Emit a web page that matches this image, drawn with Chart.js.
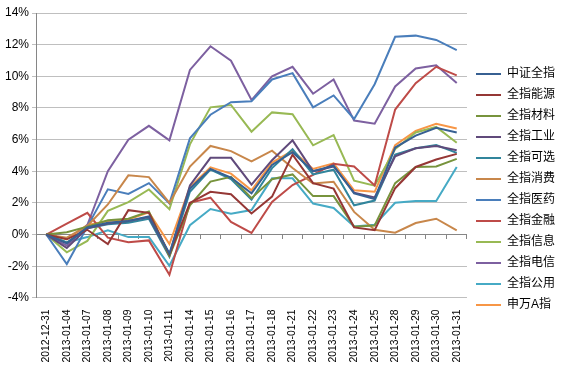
<!DOCTYPE html>
<html>
<head>
<meta charset="utf-8">
<script src="https://cdn.jsdelivr.net/npm/chart.js@4/dist/chart.umd.min.js"></script>
<style>
html, body { margin: 0; padding: 0; background: #fff; }
</style>
</head>
<body>
<canvas id="chart" width="565" height="365"></canvas>
<script>
// 日期
const dates = ['2012-12-31','2013-01-04','2013-01-07','2013-01-08','2013-01-09','2013-01-10','2013-01-11',
  '2013-01-14','2013-01-15','2013-01-16','2013-01-17','2013-01-18','2013-01-21','2013-01-22','2013-01-23',
  '2013-01-24','2013-01-25','2013-01-28','2013-01-29','2013-01-30','2013-01-31'];

const seriesNames = ['中证全指','全指能源','全指材料','全指工业','全指可选','全指消费',
  '全指医药','全指金融','全指信息','全指电信','全指公用','申万A指'];

// 累计涨幅 (%)
const zzqz    = [0,-0.55,0.45,0.75,0.85,1.15,-1.2,2.9,4.15,3.6,2.6,4.4,5.2,4.0,4.35,2.6,2.25,5.5,6.25,6.75,6.45];
const nengyuan= [0,-0.3,0.3,-0.6,1.54,1.37,-1.25,2.0,2.7,2.55,1.33,2.4,5.05,3.25,2.9,0.45,0.27,2.93,4.27,4.74,5.1];
const cailiao = [0,0.15,0.5,0.9,1.0,1.45,-1.35,1.85,3.35,3.65,2.3,3.5,3.8,2.43,2.43,0.5,0.57,3.25,4.27,4.3,4.78];
const gongye  = [0,-0.85,0.4,0.7,0.85,1.1,-1.3,3.1,4.85,4.85,3.15,4.7,5.95,4.0,4.3,2.65,2.35,4.95,5.45,5.6,5.33];
const kexuan  = [0,-0.5,0.4,0.65,0.75,1.0,-1.4,2.7,4.1,3.5,2.2,4.2,5.4,3.8,4.1,1.85,2.15,5.06,5.45,5.65,5.16];
const xiaofei = [0,-0.2,0.55,1.9,3.74,3.63,2.0,4.3,5.6,5.27,4.63,5.3,4.2,3.23,3.34,1.43,0.3,0.12,0.73,1.0,0.27];
const yiyao   = [0,-1.86,0.5,2.86,2.57,3.25,1.97,6.08,7.57,8.36,8.42,9.8,10.2,8.04,8.79,7.3,9.5,12.5,12.57,12.3,11.66];
const jinrong = [0,0.69,1.37,-0.2,-0.48,-0.37,-2.54,2.0,2.33,0.8,0.1,2.06,3.13,3.77,4.47,4.3,3.1,7.9,9.57,10.6,10.06];
const xinxi   = [0,-1.12,-0.4,1.5,2.05,2.85,1.6,5.7,8.04,8.19,6.5,7.72,7.6,5.64,6.28,3.4,3.09,5.4,6.45,6.8,5.8];
const dianxin = [0,-0.7,0.6,4.0,6.0,6.87,5.95,10.4,11.9,10.98,8.5,10.0,10.6,8.9,9.8,7.2,7.0,9.36,10.5,10.7,9.57];
const gongyong= [0,-0.5,-0.16,0.27,-0.16,-0.16,-1.97,0.59,1.61,1.31,1.55,3.55,3.55,1.96,1.68,0.51,0.62,2.01,2.12,2.12,4.27];
const swA     = [0,-0.3,0.6,0.85,0.95,1.4,-0.6,3.0,4.25,3.85,2.8,4.55,5.3,4.15,4.5,2.8,2.7,5.65,6.55,7.0,6.7];

const yTicks = [-4,-2,0,2,4,6,8,10,12,14];

const allSeries = [zzqz, nengyuan, cailiao, gongye, kexuan, xiaofei, yiyao, jinrong, xinxi, dianxin, gongyong, swA];
const colors = ['#376092','#953735','#77933C','#604A7B','#31859C','#C8874B',
  '#4A7EBB','#BE4B48','#98B954','#7D60A0','#46AAC5','#F79646'];

const fontFam = '"Liberation Sans", Arial, "Noto Sans CJK SC", sans-serif';

const datasets = allSeries.map((d, i) => ({
    label: seriesNames[i],
    data: d,
    borderColor: colors[i],
    backgroundColor: colors[i],
    borderWidth: 2,
    pointRadius: 0,
    tension: 0,
    fill: false
}));

new Chart(document.getElementById('chart'), {
    type: 'line',
    data: { labels: dates, datasets: datasets },
    options: {
        responsive: false,
        animation: false,
        devicePixelRatio: 1,
        layout: { padding: { top: 13, left: 2, right: 0, bottom: -1 } },
        plugins: {
            tooltip: { enabled: false },
            legend: {
                position: 'right',
                labels: {
                    usePointStyle: true,
                    pointStyle: 'line',
                    pointStyleWidth: 25,
                    padding: 9,
                    color: '#000',
                    font: { family: fontFam, size: 12 }
                }
            }
        },
        scales: {
            x: {
                type: 'category',
                position: 'bottom',
                offset: true,
                grid: { display: false },
                border: { display: false },
                ticks: {
                    autoSkip: false,
                    minRotation: 90,
                    maxRotation: 90,
                    padding: 3.5,
                    color: '#000',
                    font: { family: fontFam, size: 10.4 }
                }
            },
            xZero: {
                type: 'category',
                labels: dates,
                position: { y: 0 },
                offset: true,
                grid: { display: true, drawOnChartArea: false, offset: true, tickLength: 4, color: '#868686' },
                border: { color: '#868686' },
                ticks: { display: false }
            },
            y: {
                min: yTicks[0],
                max: yTicks[yTicks.length - 1],
                afterBuildTicks: axis => { axis.ticks = yTicks.map(v => ({ value: v })); },
                grid: { color: '#BFBFBF', tickLength: 4 },
                border: { color: '#868686' },
                ticks: {
                    padding: 3,
                    color: '#000',
                    font: { family: fontFam, size: 12 },
                    callback: v => v + '%'
                }
            }
        }
    }
});
</script>
</body>
</html>
